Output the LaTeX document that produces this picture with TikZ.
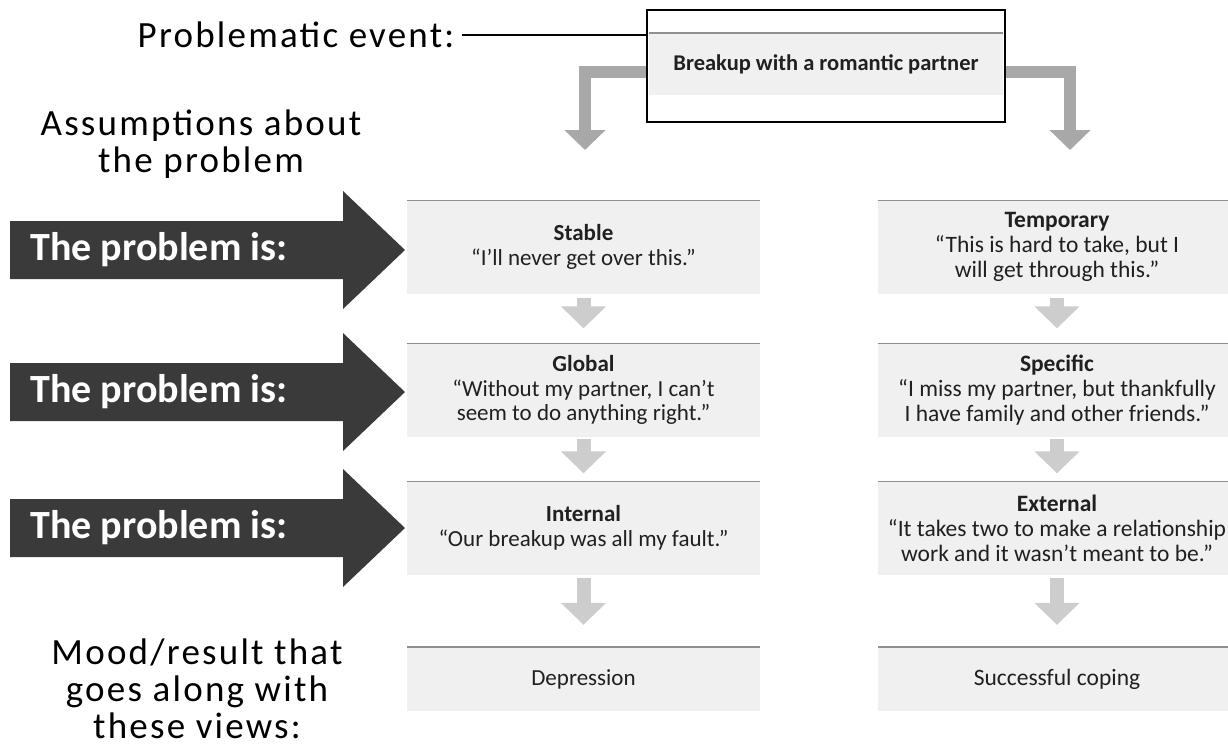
\documentclass[tikz,border=0pt]{standalone}
\usepackage{fontspec}
\setmainfont{Carlito}
\newfontfamily\lblfont[LetterSpace=6]{Carlito}
\usetikzlibrary{arrows.meta,calc}
\definecolor{cardgray}{HTML}{F0F0F0}
\definecolor{edgegray}{HTML}{8F8F8F}
\definecolor{elbowgray}{HTML}{A8A8A8}
\definecolor{smallgray}{HTML}{CDCDCD}
\definecolor{darkarrow}{HTML}{3A3A3A}
\definecolor{txt}{HTML}{202020}
\begin{document}
\begin{tikzpicture}[x=1pt,y=-1pt,
  lbl/.style={font=\lblfont\fontsize{37}{37}\selectfont, align=center, inner sep=0pt, text=black},
  card/.style={fill=cardgray, draw=none, minimum width=353pt, minimum height=93pt, inner sep=0pt, align=center, text=txt, font=\fontsize{23}{24.5}\selectfont},
  rcard/.style={card, minimum width=358pt, font=\fontsize{23.5}{25}\selectfont},
  topline/.style={draw=edgegray, line width=1.6pt},
  elbow/.style={draw=elbowgray, line width=12pt, -{Triangle[width=40pt,length=20pt]}},
  smallarr/.style={draw=smallgray, line width=14pt, -{Triangle[width=44pt,length=22pt]}},
  darkarr/.style={fill=darkarrow},
  arrtext/.style={font=\bfseries\fontsize{40}{40}\selectfont, text=white, inner sep=0pt},
]
\useasboundingbox (0,0) rectangle (1228,748);

% left labels
\node[lbl] (pe) at (296,35) {Problematic event:};
\node[lbl] (as) at (201,144) {Assumptions about\\the problem};
\node[lbl] (mo) at (197,689) {Mood/result that\\goes along with\\these views:};

% top event box
\node[draw=black, line width=2.5pt, minimum width=358pt, minimum height=112pt, inner sep=0pt] (ev) at (826,66) {};
\node[fill=cardgray, minimum width=354pt, minimum height=62pt, inner sep=0pt, text=txt,
      font=\bfseries\fontsize{22.5}{24}\selectfont] (evband) at (826,64) {Breakup with a romantic partner};
\draw[topline] (evband.north west) -- (evband.north east);
\draw[line width=2pt, shorten <=8pt] (pe.east) -- (pe.east -| ev.west);

% cards
\node[card] (s1) at (583.5,247) {\textbf{Stable}\\“I’ll never get over this.”};
\node[card] (s2) at (583.5,390) {\textbf{Global}\\“Without my partner, I can’t\\seem to do anything right.”};
\node[card] (s3) at (583.5,528) {\textbf{Internal}\\“Our breakup was all my fault.”};
\node[card, minimum height=64pt] (s4) at (583.5,679) {Depression};
\node[rcard] (t1) at (1057,247) {\textbf{Temporary}\\“This is hard to take, but I\\will get through this.”};
\node[rcard] (t2) at (1057,390) {\textbf{Specific}\\“I miss my partner, but thankfully\\I have family and other friends.”};
\node[rcard] (t3) at (1057,528) {\textbf{External}\\“It takes two to make a relationship\\work and it wasn’t meant to be.”};
\node[rcard, minimum height=64pt] (t4) at (1057,679) {Successful coping};
\foreach \n in {s1,s2,s3,s4,t1,t2,t3,t4}{
  \draw[topline] (\n.north west) -- (\n.north east);
}

% elbow connectors
\coordinate (lt) at (585,150);
\coordinate (rt) at (1070,150);
\draw[elbow] ($(ev.west)+(0,6)$) -| (lt);
\draw[elbow] ($(ev.east)+(0,6)$) -| (rt);

% small arrows
\draw[smallarr, shorten <=4pt, shorten >=15pt] (s1.south) -- (s2.north);
\draw[smallarr, shorten <=2pt, shorten >=8pt] (s2.south) -- (s3.north);
\draw[smallarr, shorten <=3pt, shorten >=22pt] (s3.south) -- (s4.north);
\draw[smallarr, shorten <=4pt, shorten >=15pt] (t1.south) -- (t2.north);
\draw[smallarr, shorten <=2pt, shorten >=8pt] (t2.south) -- (t3.north);
\draw[smallarr, shorten <=3pt, shorten >=22pt] (t3.south) -- (t4.north);

% dark arrows
\foreach \c/\nm in {250/a1,392/a2,528/a3}{
  \fill[darkarr] (10,\c-29) -- (343,\c-29) -- (343,\c-59) -- (405,\c) -- (343,\c+59) -- (343,\c+29) -- (10,\c+29) -- cycle;
  \node[arrtext] (\nm) at (159,\c) {The problem is:};
}
\end{tikzpicture}
\end{document}
